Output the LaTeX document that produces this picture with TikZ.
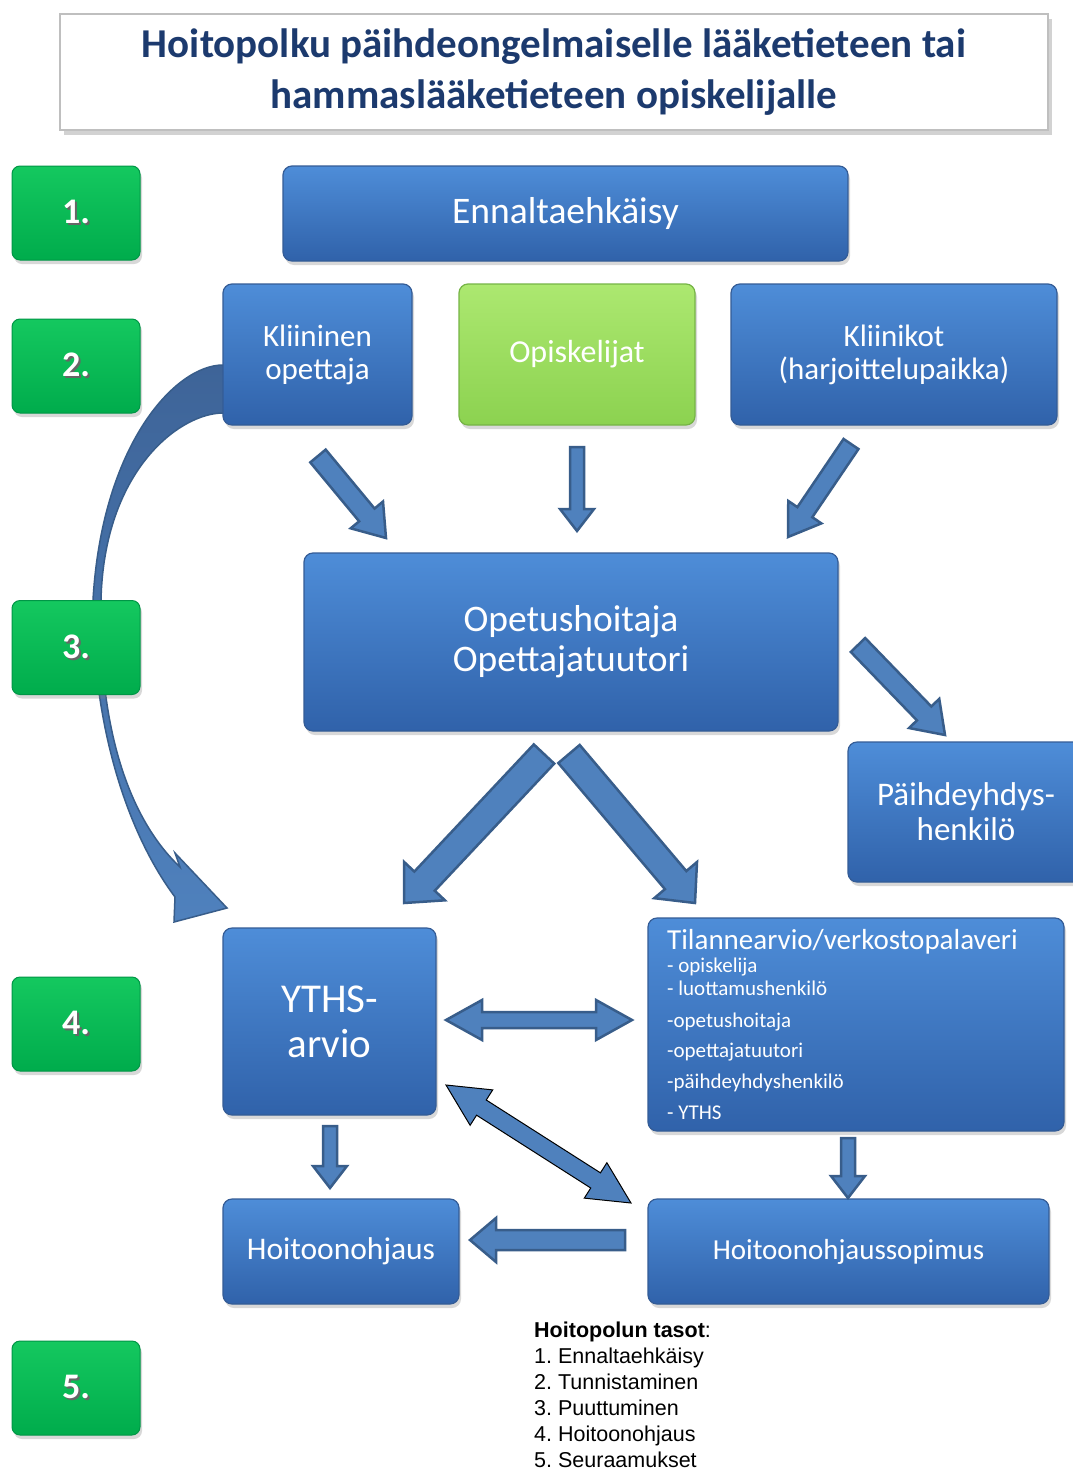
\documentclass[tikz,border=0pt]{standalone}
\usepackage{fontspec}
\setmainfont{Carlito}
\newfontfamily\arialf{Liberation Sans}
\usetikzlibrary{calc,shadows}
\frenchspacing

\definecolor{boxtop}{RGB}{78,141,216}
\definecolor{boxbot}{RGB}{48,98,170}
\definecolor{boxline}{RGB}{52,92,150}
\definecolor{grtop}{RGB}{20,200,95}
\definecolor{grbot}{RGB}{0,172,76}
\definecolor{grline}{RGB}{0,150,70}
\definecolor{optop}{RGB}{172,232,112}
\definecolor{opbot}{RGB}{140,210,80}
\definecolor{opline}{RGB}{118,180,70}
\definecolor{arrfill}{RGB}{79,129,189}
\definecolor{arrline}{RGB}{56,93,138}
\definecolor{curvtop}{RGB}{62,100,152}
\definecolor{titleblue}{RGB}{28,58,110}

\newcommand{\fsz}[2]{\fontsize{#1pt}{#2pt}\selectfont}
\newcommand{\shnum}[1]{\makebox[0pt][l]{\hspace{2pt}\raisebox{-2pt}{\textcolor{black!60}{#1}}}#1}

% block arrow: [style]{start}{tip}{half shaft}{half head}{head length}
\newcommand{\barrow}[6][]{%
  \coordinate (bh) at ($(#3)!#6!(#2)$);
  \filldraw[blockarrow,#1] ($(#2)!#4!90:(#3)$) -- ($(bh)!#4!90:(#3)$) -- ($(bh)!#5!90:(#3)$) -- (#3)
    -- ($(bh)!#5!-90:(#3)$) -- ($(bh)!#4!-90:(#3)$) -- ($(#2)!#4!-90:(#3)$) -- cycle;}
\newcommand{\dbarrow}[6][]{%
  \coordinate (bha) at ($(#2)!#6!(#3)$);
  \coordinate (bhb) at ($(#3)!#6!(#2)$);
  \filldraw[blockarrow,#1] (#2) -- ($(bha)!#5!90:(#3)$) -- ($(bha)!#4!90:(#3)$) -- ($(bhb)!#4!90:(#3)$)
    -- ($(bhb)!#5!90:(#3)$) -- (#3) -- ($(bhb)!#5!-90:(#3)$) -- ($(bhb)!#4!-90:(#3)$)
    -- ($(bha)!#4!-90:(#3)$) -- ($(bha)!#5!-90:(#3)$) -- cycle;}

\tikzset{
  bluebox/.style={draw=boxline, line width=1.2pt, top color=boxtop, bottom color=boxbot,
    rounded corners=9pt, text=white, align=center, inner sep=0pt,
    drop shadow={opacity=0.3, shadow xshift=2pt, shadow yshift=-4pt}},
  greenbox/.style={draw=grline, line width=1pt, top color=grtop, bottom color=grbot,
    rounded corners=8pt, text=white, align=center, inner sep=0pt,
    minimum width=128pt, minimum height=94pt, font=\fsz{36}{40}\bfseries,
    drop shadow={opacity=0.3, shadow xshift=2pt, shadow yshift=-4pt}},
  opbox/.style={bluebox, draw=opline, top color=optop, bottom color=opbot},
  titlebox/.style={draw=black!25, line width=1.2pt, fill=white, inner sep=0pt,
    align=center, text=titleblue, font=\fsz{41}{51}\bfseries,
    drop shadow={opacity=0.35, shadow xshift=4pt, shadow yshift=-5pt}},
  blockarrow/.style={fill=arrfill, draw=arrline, line width=2.5pt, line join=miter},
  thinarrow/.style={draw=black, line width=1pt},
  listtxt/.style={anchor=base west, inner sep=0pt, text=white, font=\fsz{21}{24}},
  legtxt/.style={anchor=base west, inner sep=0pt, text=black, font=\arialf\fsz{21.5}{24}}
}

\begin{document}
\begin{tikzpicture}[x=1pt, y=-1pt]
\useasboundingbox[fill=white] (0,0) rectangle (1072,1470);

% title
\node[titlebox, minimum width=988pt, minimum height=116pt] (title) at (554,72)
  {Hoitopolku päihdeongelmaiselle lääketieteen tai\\hammaslääketieteen opiskelijalle};

% curved arrow (behind boxes)
\path[draw=arrline, line width=1.5pt, top color=curvtop, bottom color=arrfill, line join=miter]
  (240,365) -- (223,365) .. controls (175,365) and (102,445) .. (93,600)
  .. controls (92,720) and (125,830) .. (175,897)
  -- (174,922) -- (227,908) -- (175,853) -- (180,867)
  .. controls (130,820) and (98,730) .. (101,600)
  .. controls (104,470) and (180,413) .. (223,413) -- (240,413) -- cycle;

% level boxes
\node[greenbox] (g1) at (76,213) {\shnum{1.}};
\node[greenbox] (g2) at (76,366) {\shnum{2.}};
\node[greenbox] (g3) at (76,647.5) {\shnum{3.}};
\node[greenbox] (g4) at (76,1024) {\shnum{4.}};
\node[greenbox] (g5) at (76,1388) {\shnum{5.}};

% main boxes
\node[bluebox, minimum width=565pt, minimum height=95pt, font=\fsz{37.5}{40}] (enn) at (565.5,213.5) {Ennaltaehkäisy};
\node[bluebox, minimum width=189pt, minimum height=141pt, font=\fsz{31}{33}] (klin) at (317.5,354.5) {Kliininen\\opettaja};
\node[opbox, minimum width=236pt, minimum height=141pt, font=\fsz{32}{33}] (opisk) at (577,354.5) {Opiskelijat};
\node[bluebox, minimum width=326pt, minimum height=141pt, font=\fsz{31}{33}] (kliinikot) at (894,354.5) {Kliinikot\\(harjoittelupaikka)};
\node[bluebox, minimum width=534pt, minimum height=178pt, font=\fsz{37.5}{40}] (opet) at (571,642) {Opetushoitaja\\Opettajatuutori};
\node[bluebox, minimum width=236pt, minimum height=140pt, font=\fsz{33}{35}] (paih) at (966,812) {Päihdeyhdys-\\henkilö};
\node[bluebox, minimum width=213pt, minimum height=187pt, font=\fsz{41}{45}] (yths) at (329.5,1021.5) {YTHS-\\arvio};
\node[bluebox, minimum width=416pt, minimum height=213pt] (tilanne) at (856,1024.5) {};
\node[bluebox, minimum width=236pt, minimum height=105pt, font=\fsz{31.5}{33}] (hoito) at (341,1251.5) {Hoitoonohjaus};
\node[bluebox, minimum width=401pt, minimum height=105pt, font=\fsz{29}{32}] (sopimus) at (848.5,1251.5) {Hoitoonohjaussopimus};

% text inside Tilannearvio box
\node[listtxt, font=\fsz{29}{30}] (t0) at (667,949) {Tilannearvio/verkostopalaveri};
\node[listtxt] (t1) at (667,972) {- opiskelija};
\node[listtxt] (t2) at (667,995) {- luottamushenkilö};
\node[listtxt] (t3) at (667,1027) {-opetushoitaja};
\node[listtxt] (t4) at (667,1057) {-opettajatuutori};
\node[listtxt] (t5) at (667,1088) {-päihdeyhdyshenkilö};
\node[listtxt] (t6) at (667,1119) {- YTHS};

% arrow end points
\coordinate (a1s) at (318,456);  \coordinate (a1e) at (386,538);
\coordinate (a2s) at (577,447);  \coordinate (a2e) at (577,531);
\coordinate (a3s) at (851,444);  \coordinate (a3e) at (788,537);
\coordinate (a4s) at (858,645);  \coordinate (a4e) at (945,735);
\coordinate (a5s) at (544,754);  \coordinate (a5e) at (404,903);
\coordinate (a6s) at (569,754);  \coordinate (a6e) at (695,903);
\coordinate (a7s) at (446,1020); \coordinate (a7e) at (632,1020);
\coordinate (a8s) at (446,1085); \coordinate (a8e) at (631,1203);
\coordinate (a9s) at (330,1126); \coordinate (a9e) at (330,1188);
\coordinate (a10s) at (848,1138); \coordinate (a10e) at (848,1198);
\coordinate (a11s) at (625,1240); \coordinate (a11e) at (470,1240);

\barrow{a1s}{a1e}{10pt}{21pt}{30pt}
\barrow{a2s}{a2e}{7pt}{17pt}{22pt}
\barrow{a3s}{a3e}{9pt}{20pt}{30pt}
\barrow{a4s}{a4e}{10pt}{21pt}{30pt}
\barrow{a5s}{a5e}{14pt}{28pt}{30pt}
\barrow{a6s}{a6e}{14pt}{28pt}{30pt}
\dbarrow{a7s}{a7e}{8pt}{20pt}{36pt}
\dbarrow[thinarrow]{a8s}{a8e}{9pt}{21pt}{42pt}
\barrow{a9s}{a9e}{7pt}{17pt}{22pt}
\barrow{a10s}{a10e}{7pt}{17pt}{22pt}
\barrow{a11s}{a11e}{10pt}{22pt}{26pt}

% legend
\node[legtxt] (l0) at (534,1337) {\textbf{Hoitopolun tasot}:};
\node[legtxt] (l1) at (534,1363) {1. Ennaltaehkäisy};
\node[legtxt] (l2) at (534,1389) {2. Tunnistaminen};
\node[legtxt] (l3) at (534,1415) {3. Puuttuminen};
\node[legtxt] (l4) at (534,1441) {4. Hoitoonohjaus};
\node[legtxt] (l5) at (534,1467) {5. Seuraamukset};
\end{tikzpicture}
\end{document}
